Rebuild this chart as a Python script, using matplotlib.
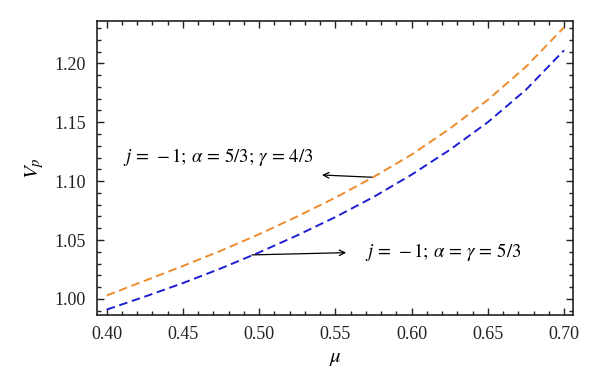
import matplotlib
matplotlib.use("Agg")
import matplotlib.pyplot as plt
from matplotlib.ticker import MultipleLocator

mu = [0.400, 0.425, 0.450, 0.475, 0.500, 0.525, 0.550, 0.575, 0.600, 0.625, 0.650, 0.675, 0.700]
vp_gamma43 = [1.003, 1.0155, 1.028, 1.041, 1.055, 1.070, 1.086, 1.1035, 1.1225, 1.1445, 1.169, 1.197, 1.2305]
vp_gamma53 = [0.991, 1.002, 1.0135, 1.026, 1.0395, 1.054, 1.0695, 1.0865, 1.1055, 1.1265, 1.150, 1.1775, 1.211]

xticks = [0.40, 0.45, 0.50, 0.55, 0.60, 0.65, 0.70]
yticks = [1.00, 1.05, 1.10, 1.15, 1.20]
label_43 = r"$j\,=\,-1;\,\alpha\,=\,5/3;\,\gamma\,=\,4/3$"
label_53 = r"$j\,=\,-1;\,\alpha\,=\,\gamma\,=\,5/3$"

plt.rcParams['font.family'] = ['Liberation Serif', 'DejaVu Serif']
plt.rcParams['mathtext.fontset'] = 'stix'

fig = plt.figure(figsize=(6.0, 3.91), dpi=100)
ax = fig.add_axes([0.1617, 0.1944, 0.955 - 0.1617, 0.9463 - 0.1944])

ax.plot(mu, vp_gamma43, color='#EE8C2C', lw=1.4, dashes=(4.4, 2.4))
ax.plot(mu, vp_gamma53, color='#1E1ED2', lw=1.4, dashes=(4.4, 2.4))

ax.set_xlim(0.3936, 0.7059)
ax.set_ylim(0.9864, 1.2359)
ax.set_xticks(xticks)
ax.set_xticklabels([f"{t:.2f}" for t in xticks])
ax.set_yticks(yticks)
ax.set_yticklabels([f"{t:.2f}" for t in yticks])
ax.xaxis.set_minor_locator(MultipleLocator(0.01))
ax.yaxis.set_minor_locator(MultipleLocator(0.01))
ax.tick_params(which='both', direction='in', top=True, right=True, labelsize=13, width=1.0, colors='#222222')
ax.tick_params(which='major', length=5, pad=8)
ax.tick_params(which='minor', length=3)
for s in ax.spines.values():
    s.set_linewidth(1.2)
    s.set_color('#222222')

ax.set_xlabel(r"$\mu$", fontsize=15, labelpad=4)
ax.set_ylabel(r"$V_p$", fontsize=15, labelpad=6)

ax.annotate("", xy=(0.5412, 1.1052), xytext=(0.5740, 1.1033),
            arrowprops=dict(arrowstyle='->', color='black', lw=0.9, shrinkA=0, shrinkB=0))
ax.text(0.4107, 1.1205, label_43, fontsize=13.5, va='center', ha='left')
ax.annotate("", xy=(0.5571, 1.0393), xytext=(0.4952, 1.0374),
            arrowprops=dict(arrowstyle='->', color='black', lw=0.9, shrinkA=0, shrinkB=0))
ax.text(0.5696, 1.0395, label_53, fontsize=13.5, va='center', ha='left')

fig.savefig("out.png", dpi=100)
